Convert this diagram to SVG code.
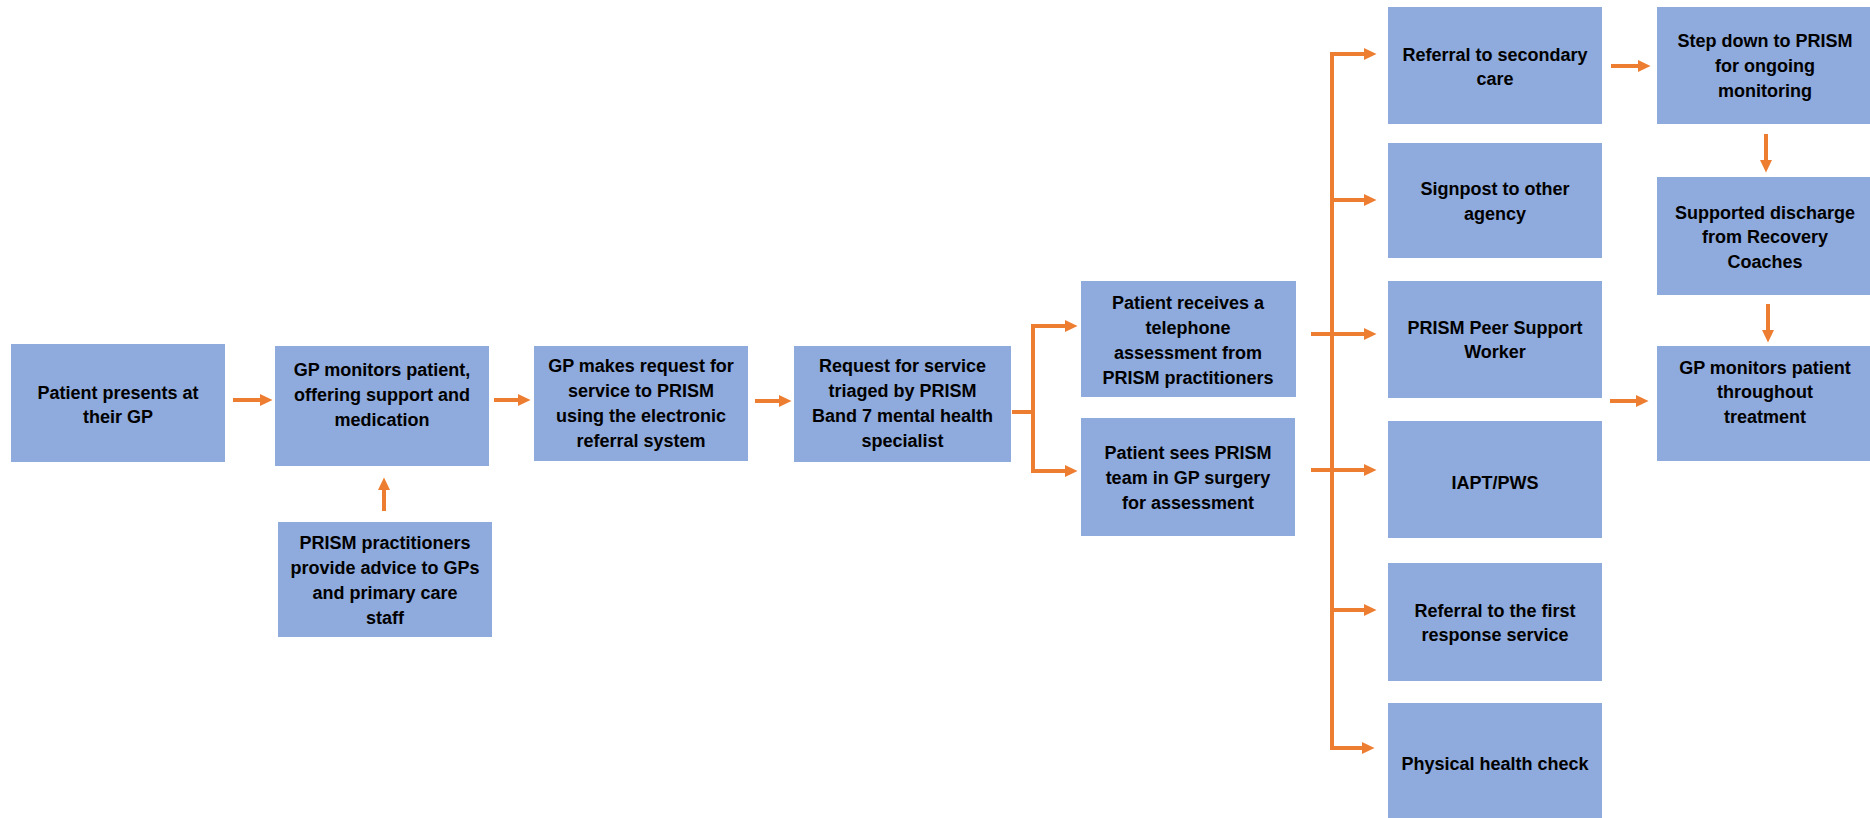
<svg xmlns="http://www.w3.org/2000/svg" width="1870" height="818" viewBox="0 0 1870 818">
<style>
.box{fill:#8FAADC}
.t{font-family:"Liberation Sans",Arial,sans-serif;font-weight:bold;font-size:18px;fill:#000;text-anchor:middle}
.c{fill:none;stroke:#ED7D31;stroke-width:4;marker-end:url(#ah)}
.l{fill:none;stroke:#ED7D31;stroke-width:4}
</style>
<defs>
<marker id="ah" markerUnits="userSpaceOnUse" markerWidth="13" markerHeight="12" refX="2" refY="6" orient="auto">
<path d="M0,0 L12.5,6 L0,12 z" fill="#ED7D31"/>
</marker>
</defs>
<rect width="1870" height="818" fill="#fff"/>
<g id="n1"><rect class="box" x="11" y="344" width="214" height="118"/>
<text class="t" x="118" y="399">Patient presents at</text><text class="t" x="118" y="423">their GP</text></g>
<g id="n2"><rect class="box" x="275" y="346" width="214" height="120"/>
<text class="t" x="382" y="376">GP monitors patient,</text><text class="t" x="382" y="401">offering support and</text><text class="t" x="382" y="426">medication</text></g>
<g id="n3"><rect class="box" x="278" y="522" width="214" height="115"/>
<text class="t" x="385" y="549">PRISM practitioners</text><text class="t" x="385" y="574">provide advice to GPs</text><text class="t" x="385" y="599">and primary care</text><text class="t" x="385" y="624">staff</text></g>
<g id="n4"><rect class="box" x="534" y="346" width="214" height="115"/>
<text class="t" x="641" y="372">GP makes request for</text><text class="t" x="641" y="397">service to PRISM</text><text class="t" x="641" y="422">using the electronic</text><text class="t" x="641" y="447">referral system</text></g>
<g id="n5"><rect class="box" x="794" y="346" width="217" height="116"/>
<text class="t" x="902.5" y="372">Request for service</text><text class="t" x="902.5" y="397">triaged by PRISM</text><text class="t" x="902.5" y="422">Band 7 mental health</text><text class="t" x="902.5" y="447">specialist</text></g>
<g id="n6"><rect class="box" x="1081" y="281" width="215" height="116"/>
<text class="t" x="1188" y="309">Patient receives a</text><text class="t" x="1188" y="334">telephone</text><text class="t" x="1188" y="359">assessment from</text><text class="t" x="1188" y="384">PRISM practitioners</text></g>
<g id="n7"><rect class="box" x="1081" y="418" width="214" height="118"/>
<text class="t" x="1188" y="459">Patient sees PRISM</text><text class="t" x="1188" y="484">team in GP surgery</text><text class="t" x="1188" y="509">for assessment</text></g>
<g id="n8"><rect class="box" x="1388" y="7" width="214" height="117"/>
<text class="t" x="1495" y="61">Referral to secondary</text><text class="t" x="1495" y="85">care</text></g>
<g id="n9"><rect class="box" x="1388" y="143" width="214" height="115"/>
<text class="t" x="1495" y="195">Signpost to other</text><text class="t" x="1495" y="220">agency</text></g>
<g id="n10"><rect class="box" x="1388" y="281" width="214" height="117"/>
<text class="t" x="1495" y="334">PRISM Peer Support</text><text class="t" x="1495" y="358">Worker</text></g>
<g id="n11"><rect class="box" x="1388" y="421" width="214" height="117"/>
<text class="t" x="1495" y="489">IAPT/PWS</text></g>
<g id="n12"><rect class="box" x="1388" y="563" width="214" height="118"/>
<text class="t" x="1495" y="617">Referral to the first</text><text class="t" x="1495" y="641">response service</text></g>
<g id="n13"><rect class="box" x="1388" y="703" width="214" height="115"/>
<text class="t" x="1495" y="770">Physical health check</text></g>
<g id="n14"><rect class="box" x="1657" y="7" width="213" height="117"/>
<text class="t" x="1765" y="47">Step down to PRISM</text><text class="t" x="1765" y="72">for ongoing</text><text class="t" x="1765" y="97">monitoring</text></g>
<g id="n15"><rect class="box" x="1657" y="177" width="213" height="118"/>
<text class="t" x="1765" y="219">Supported discharge</text><text class="t" x="1765" y="243">from Recovery</text><text class="t" x="1765" y="268">Coaches</text></g>
<g id="n16"><rect class="box" x="1657" y="346" width="213" height="115"/>
<text class="t" x="1765" y="374">GP monitors patient</text><text class="t" x="1765" y="398">throughout</text><text class="t" x="1765" y="423">treatment</text></g>
<g id="connectors">
<path class="c" d="M233,400 H262"/>
<path class="c" d="M384,511 V488"/>
<path class="c" d="M494,400 H520"/>
<path class="c" d="M755,401 H781"/>
<path class="l" d="M1012,412 H1033"/>
<path class="c" d="M1033,412 V326 H1067"/>
<path class="c" d="M1033,412 V471 H1067"/>
<path class="c" d="M1332,400 V54 H1366"/>
<path class="c" d="M1332,400 V748 H1364"/>
<path class="c" d="M1332,200 H1366"/>
<path class="c" d="M1311,334 H1366"/>
<path class="c" d="M1311,470 H1366"/>
<path class="c" d="M1332,610 H1366"/>
<path class="c" d="M1611,66 H1640"/>
<path class="c" d="M1766,134 V162"/>
<path class="c" d="M1768,304 V332"/>
<path class="c" d="M1610,401 H1638"/>
</g>
</svg>
